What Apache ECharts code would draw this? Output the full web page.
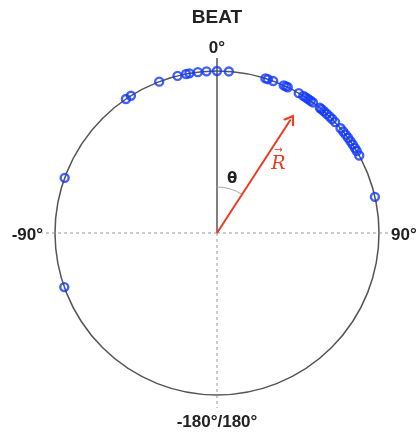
<!DOCTYPE html>
<html>
<head>
<meta charset="utf-8">
<title>BEAT</title>
<script src="https://cdn.jsdelivr.net/npm/echarts@6/dist/echarts.min.js"></script>
<style>
  html, body { margin: 0; padding: 0; background: #fff; }
  #main { width: 418px; height: 432px; }
</style>
</head>
<body>
<div id="main"></div>
<script>
// beat phases, degrees clockwise from the top (0°)
var beatAngles = [-109.5, -70.1, -34.2, -32.1, -20.9, -14.1, -11.0, -9.8, -6.8, -3.7,
  0, 4.2, 17.4, 18.3, 20.3, 24.3, 25.2, 25.9, 30.3, 32.2, 33.2, 34.2, 35.3, 36.3,
  39.4, 40.2, 41.3, 42.6, 44.0, 45.3, 46.8, 49.7, 51.2, 52.6, 54.0, 55.5, 56.9,
  58.3, 59.6, 61.4, 77.1];
var beatRadius = 1;
// tick labels of the angle axis
var tickValues = [-180, -90, 0, 90, 180];
var tickLabels = ['-180°/180°', '-90°', '0°', '90°', ''];
// resultant vector R
var resultAngle = 33;
var resultLength = 0.835;
// crosshair guides
var guideAngles = [0, 90, -90, 180];
var guideLength = 1.08;

var RED = '#ee3a1f';
var BLUE = '#1038ff';

var chart = echarts.init(document.getElementById('main'));

var labelFont = {
  fontFamily: 'Liberation Sans',
  fontSize: 17,
  fontWeight: 'bold',
  color: '#222'
};

var option = {
  backgroundColor: '#ffffff',
  animation: false,
  title: {
    text: 'BEAT',
    left: 217,
    top: 8,
    textAlign: 'center',
    padding: 0,
    textStyle: {
      fontFamily: 'Liberation Sans',
      fontSize: 19,
      fontWeight: 'bold',
      color: '#222'
    }
  },
  polar: {
    center: [217, 233],
    radius: 162
  },
  angleAxis: {
    type: 'value',
    min: -180,
    max: 180,
    interval: 90,
    startAngle: 270,
    clockwise: true,
    axisLine: { lineStyle: { color: '#555', width: 1.5 } },
    axisTick: { show: false },
    splitLine: { show: false },
    axisLabel: {
      margin: 12,
      fontFamily: 'Liberation Sans',
      fontSize: 17,
      fontWeight: 'bold',
      color: '#222',
      rich: {
        b: Object.assign({ padding: [7, 0, 0, 0] }, labelFont),
        s: Object.assign({ padding: [5, 0, 0, 0] }, labelFont),
        t: Object.assign({ padding: [0, 0, 2, 0] }, labelFont)
      },
      formatter: function (v) {
        var i = tickValues.indexOf(v);
        if (i < 0 || !tickLabels[i]) return '';
        var key = v === -180 ? 'b' : (v === 0 ? 't' : 's');
        return '{' + key + '|' + tickLabels[i] + '}';
      }
    }
  },
  radiusAxis: {
    type: 'value',
    min: 0,
    max: 1,
    axisLine: { show: false },
    axisTick: { show: false },
    axisLabel: { show: false },
    splitLine: { show: false }
  },
  series: [
    {
      // crosshair lines
      type: 'custom',
      coordinateSystem: 'polar',
      silent: true,
      z: 1,
      data: guideAngles.map(function (a) { return [guideLength, a]; }),
      renderItem: function (params, api) {
        var a = api.value(1);
        var c = api.coord([0, 0]);
        var p = api.coord([api.value(0), a]);
        var solid = a === 0;
        return {
          type: 'line',
          shape: { x1: c[0], y1: c[1], x2: p[0], y2: p[1] },
          style: {
            stroke: solid ? '#555' : '#999',
            lineWidth: solid ? 1.5 : 1,
            lineDash: solid ? null : [3, 3]
          }
        };
      }
    },
    {
      // theta arc and labels
      type: 'custom',
      coordinateSystem: 'polar',
      silent: true,
      z: 2,
      data: [[0.284, resultAngle]],
      renderItem: function (params, api) {
        var a = api.value(1);
        var c = api.coord([0, 0]);
        var e = api.coord([api.value(0), 0]);
        var r = Math.abs(c[1] - e[1]);
        var tp = api.coord([0.348, 15.5]);
        var rp = api.coord([0.59, 40]);
        return {
          type: 'group',
          children: [
            {
              type: 'arc',
              shape: {
                cx: c[0], cy: c[1], r: r,
                startAngle: -Math.PI / 2,
                endAngle: -Math.PI / 2 + a * Math.PI / 180,
                clockwise: true
              },
              style: { stroke: '#aaa', fill: 'none', lineWidth: 1 }
            },
            {
              type: 'text',
              x: tp[0], y: tp[1],
              style: {
                text: 'θ',
                fontFamily: 'DejaVu Sans',
                fontSize: 15,
                fontWeight: 'bold',
                fill: '#222',
                align: 'center',
                verticalAlign: 'middle'
              }
            },
            {
              type: 'text',
              x: rp[0], y: rp[1],
              style: {
                text: '{a|→}\n{r|R}',
                align: 'center',
                verticalAlign: 'middle',
                rich: {
                  a: { fontSize: 10, lineHeight: 8, fill: RED, fontFamily: 'DejaVu Sans', align: 'center' },
                  r: { fontSize: 19, lineHeight: 18, fill: RED, fontStyle: 'italic', fontFamily: 'DejaVu Serif', align: 'center' }
                }
              }
            }
          ]
        };
      }
    },
    {
      // resultant vector
      type: 'line',
      coordinateSystem: 'polar',
      silent: true,
      clip: false,
      z: 3,
      symbol: 'none',
      showSymbol: true,
      lineStyle: { color: RED, width: 2 },
      data: [
        [0, resultAngle],
        {
          value: [resultLength, resultAngle],
          symbol: 'path://M0,10L6,0L12,10',
          symbolSize: [11, 8],
          symbolRotate: -resultAngle,
          itemStyle: { color: 'none', borderColor: RED, borderWidth: 2 }
        }
      ]
    },
    {
      type: 'scatter',
      coordinateSystem: 'polar',
      z: 5,
      symbol: 'circle',
      symbolSize: 8,
      itemStyle: { color: 'transparent', borderColor: BLUE, borderWidth: 2.4 },
      data: beatAngles.map(function (a) { return [beatRadius, a]; })
    }
  ]
};

chart.setOption(option);
</script>
</body>
</html>
